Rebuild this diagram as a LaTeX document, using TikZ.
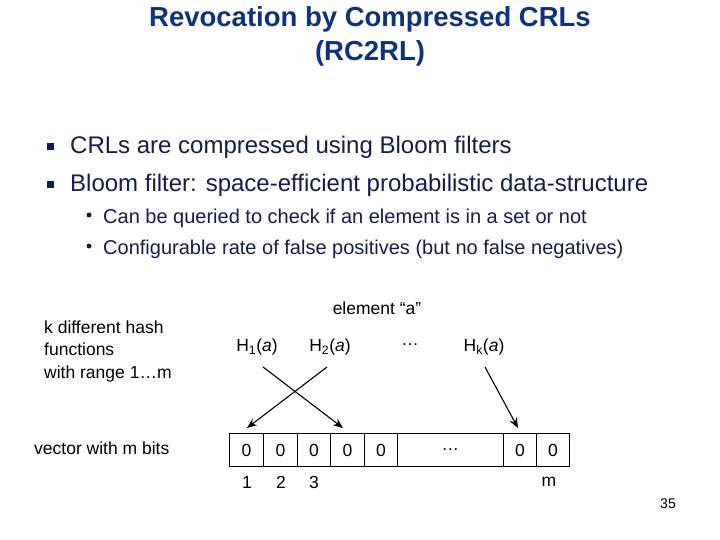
\documentclass[tikz,border=0pt]{standalone}
\usepackage{fontspec}
\setmainfont{Liberation Sans}
\usetikzlibrary{arrows.meta}
\definecolor{ttl}{RGB}{16,48,130}
\definecolor{bdy}{RGB}{20,28,80}
\begin{document}
\begin{tikzpicture}[x=1pt,y=-1pt,
  cell/.style={draw,line width=0.8pt,minimum height=33pt,inner sep=0pt,font=\fontsize{17.5}{17.5}\selectfont},
  lbl/.style={font=\fontsize{17.5}{18}\selectfont,inner sep=0pt},
  arr/.style={line width=1.1pt,-{Stealth[length=10pt,width=8pt]}}]
\useasboundingbox (0,0) rectangle (720,540);
\node[text=ttl,font=\bfseries\fontsize{27.5}{34}\selectfont,align=center] (title) at (370,36) {Revocation by Compressed CRLs\\(RC2RL)};
\node[fill=bdy,minimum size=7pt,inner sep=0pt] (b1) at (50,147) {};
\node[anchor=west,text=bdy,font=\fontsize{24}{24}\selectfont,inner sep=0pt] (t1) at (70,147) {CRLs are compressed using Bloom filters};
\node[fill=bdy,minimum size=7pt,inner sep=0pt] (b2) at (50,185) {};
\node[anchor=west,text=bdy,font=\fontsize{24}{24}\selectfont,inner sep=0pt] (t2) at (70,185) {Bloom filter: space-efficient probabilistic data-structure};
\node[circle,fill=bdy,minimum size=5pt,inner sep=0pt] (s1) at (89,215) {};
\node[anchor=west,text=bdy,font=\fontsize{20}{20}\selectfont,inner sep=0pt] (u1) at (103,218) {Can be queried to check if an element is in a set or not};
\node[circle,fill=bdy,minimum size=5pt,inner sep=0pt] (s2) at (89,246) {};
\node[anchor=west,text=bdy,font=\fontsize{20}{20}\selectfont,inner sep=0pt] (u2) at (103,249) {Configurable rate of false positives (but no false negatives)};
\node[lbl] (elem) at (377,308) {element “a”};
\node[lbl,anchor=west,align=left,font=\fontsize{17.5}{22.5}\selectfont] (kdh) at (44,351) {k different hash\\functions\\with range 1…m};
\node[lbl,anchor=west] (vec) at (34,448) {vector with m bits};
\node[lbl] (h1) at (257,347) {H\textsubscript{1}(\textit{a})};
\node[lbl] (h2) at (330,347) {H\textsubscript{2}(\textit{a})};
\node[lbl] (hd) at (410,345) {…};
\node[lbl] (hk) at (484,347) {H\textsubscript{k}(\textit{a})};
\foreach \n/\a/\b/\t in {c1/229/263/0,c2/263/297/0,c3/297/330/0,c4/330/364/0,c5/364/397/0,cd/397/503/…,ck/503/536/0,cm/536/569/0}
  \node[cell,minimum width={\b-\a},anchor=west] (\n) at (\a,450) {\t};
\node[lbl] (n1) at (247,482) {1};
\node[lbl] (n2) at (281,482) {2};
\node[lbl] (n3) at (314,482) {3};
\node[lbl] (nm) at (549,482) {m};
\node[lbl,font=\fontsize{14}{14}\selectfont] (pg) at (668,504) {35};
\coordinate (a1s) at (263,367); \coordinate (a1e) at (343,428);
\coordinate (a2s) at (327,367); \coordinate (a2e) at (247,428);
\coordinate (aks) at (485,367); \coordinate (ake) at (518,428);
\draw[arr] (a1s) -- (a1e);
\draw[arr] (a2s) -- (a2e);
\draw[arr] (aks) -- (ake);
\end{tikzpicture}
\end{document}
